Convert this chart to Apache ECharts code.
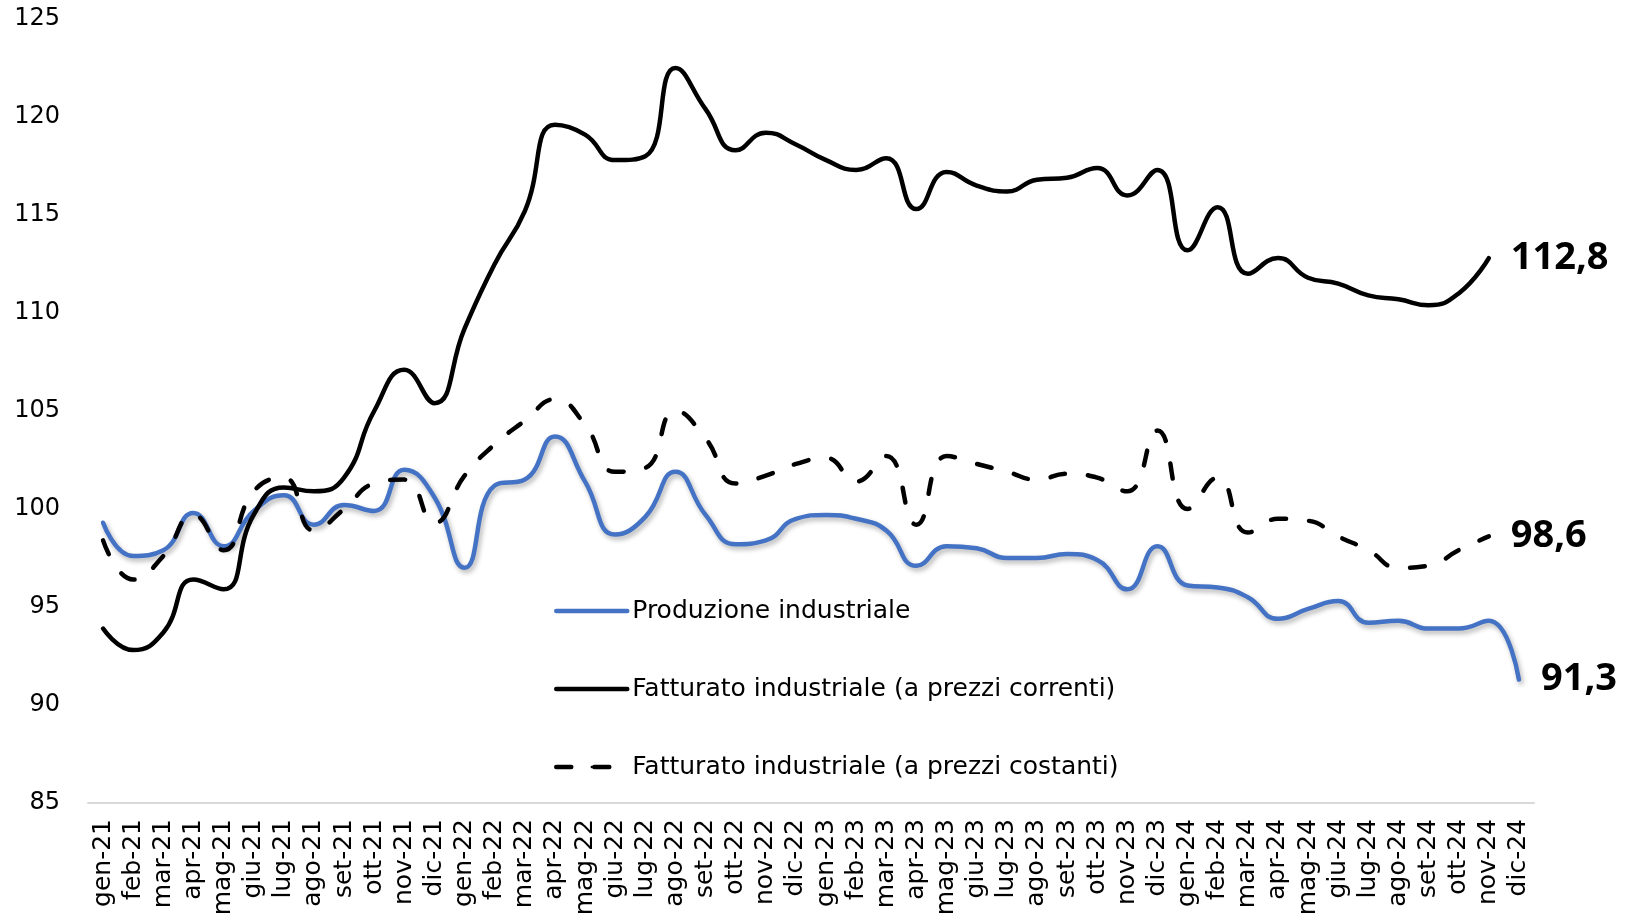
<!DOCTYPE html>
<html>
<head>
<meta charset="utf-8">
<title>Produzione e fatturato industriale</title>
<script src="https://cdn.jsdelivr.net/npm/echarts@6/dist/echarts.min.js"></script>
<style>
  html, body { margin: 0; padding: 0; background: #fff; }
  #main { width: 1625px; height: 922px; }
</style>
</head>
<body>
<div id="main"></div>
<script>
// mesi (gen-21 .. dic-24)
const months = [
  'gen-21', 'feb-21', 'mar-21', 'apr-21', 'mag-21', 'giu-21', 'lug-21', 'ago-21', 'set-21', 'ott-21', 'nov-21', 'dic-21',
  'gen-22', 'feb-22', 'mar-22', 'apr-22', 'mag-22', 'giu-22', 'lug-22', 'ago-22', 'set-22', 'ott-22', 'nov-22', 'dic-22',
  'gen-23', 'feb-23', 'mar-23', 'apr-23', 'mag-23', 'giu-23', 'lug-23', 'ago-23', 'set-23', 'ott-23', 'nov-23', 'dic-23',
  'gen-24', 'feb-24', 'mar-24', 'apr-24', 'mag-24', 'giu-24', 'lug-24', 'ago-24', 'set-24', 'ott-24', 'nov-24', 'dic-24'
]

// Produzione industriale
const produzione = [
  99.3, 97.6, 97.9, 99.8, 98.1, 99.9, 100.7, 99.2, 100.2, 99.9, 102.0, 100.6,
  97.0, 101.2, 101.5, 103.7, 101.4, 98.7, 99.6, 101.9, 99.7, 98.2, 98.4, 99.5,
  99.7, 99.5, 98.9, 97.1, 98.1, 98.0, 97.5, 97.5, 97.7, 97.4, 95.9, 98.1,
  96.1, 96.0, 95.5, 94.4, 94.9, 95.3, 94.2, 94.3, 93.9, 93.9, 94.3, 91.3
]

// Fatturato industriale (a prezzi correnti) - fino a nov-24
const fattCorrenti = [
  93.9, 92.8, 93.7, 96.4, 95.9, 99.7, 101.1, 100.9, 101.6, 105.0, 107.1, 105.4,
  109.2, 112.5, 115.2, 119.6, 119.1, 117.8, 118.0, 122.5, 120.4, 118.3, 119.2, 118.6,
  117.8, 117.3, 117.9, 115.3, 117.2, 116.5, 116.2, 116.8, 116.9, 117.4, 116.0, 117.3,
  113.2, 115.4, 112.0, 112.8, 111.8, 111.5, 110.9, 110.7, 110.4, 111.0, 112.8
]

// Fatturato industriale (a prezzi costanti) - fino a nov-24
const fattCostanti = [
  98.4, 96.4, 97.6, 99.7, 97.9, 100.9, 101.6, 98.9, 100.0, 101.3, 101.5, 99.3,
  101.7, 103.3, 104.5, 105.6, 104.3, 101.9, 102.1, 105.0, 103.6, 101.3, 101.7, 102.3,
  102.6, 101.4, 102.7, 99.2, 102.7, 102.3, 101.9, 101.5, 101.8, 101.6, 100.9, 104.0,
  100.0, 101.6, 98.8, 99.5, 99.4, 98.6, 97.9, 97.0, 97.1, 97.9, 98.6
]

const yTicks = [85, 90, 95, 100, 105, 110, 115, 120, 125]

const chart = echarts.init(document.getElementById('main'))

// etichetta finale con la virgola decimale
function endLabel () {
  return {
    show: true,
    distance: 22,
    color: '#000',
    fontFamily: 'Noto Sans',
    fontWeight: 'bold',
    fontSize: 38,
    formatter: p => String(p.value).replace('.', ',')
  }
}

chart.setOption({
  animation: false,
  textStyle: { fontFamily: 'DejaVu Sans' },
  grid: { left: 88, right: 91, top: 19, bottom: 119, outerBoundsMode: 'none' },
  legend: {
    orient: 'vertical',
    left: 549,
    top: 592,
    itemWidth: 71,
    itemHeight: 3,
    itemGap: 50,
    lineStyle: { width: 'inherit' },
    textStyle: { fontSize: 25, color: '#000', lineHeight: 28 },
    data: ['Produzione industriale', 'Fatturato industriale (a prezzi correnti)', 'Fatturato industriale (a prezzi costanti)']
  },
  xAxis: {
    type: 'category',
    data: months,
    boundaryGap: true,
    axisTick: { show: false },
    axisLine: { lineStyle: { color: '#d9d9d9', width: 2 } },
    axisLabel: { rotate: 90, interval: 0, margin: 16, fontSize: 25, color: '#000' }
  },
  yAxis: {
    type: 'value',
    min: yTicks[0],
    max: yTicks[yTicks.length - 1],
    interval: 5,
    splitLine: { show: false },
    axisLine: { show: false },
    axisTick: { show: false },
    axisLabel: { margin: 28, fontSize: 24, color: '#000' }
  },
  series: [
    {
      name: 'Produzione industriale',
      type: 'line',
      data: produzione,
      smooth: true,
      symbol: 'none',
      lineStyle: {
        color: '#4472c4', width: 4.5, cap: 'round',
        shadowColor: 'rgba(0,0,0,0.3)', shadowBlur: 5, shadowOffsetX: 2, shadowOffsetY: 3
      },
      itemStyle: { color: '#4472c4' },
      endLabel: endLabel()
    },
    {
      name: 'Fatturato industriale (a prezzi correnti)',
      type: 'line',
      data: fattCorrenti,
      smooth: true,
      symbol: 'none',
      lineStyle: { color: '#000', width: 4.5, cap: 'round' },
      itemStyle: { color: '#000' },
      endLabel: endLabel()
    },
    {
      name: 'Fatturato industriale (a prezzi costanti)',
      type: 'line',
      data: fattCostanti,
      smooth: true,
      symbol: 'none',
      lineStyle: { color: '#000', width: 4.5, type: [15, 23], cap: 'round' },
      itemStyle: { color: '#000' },
      endLabel: endLabel()
    }
  ]
})
</script>
</body>
</html>
